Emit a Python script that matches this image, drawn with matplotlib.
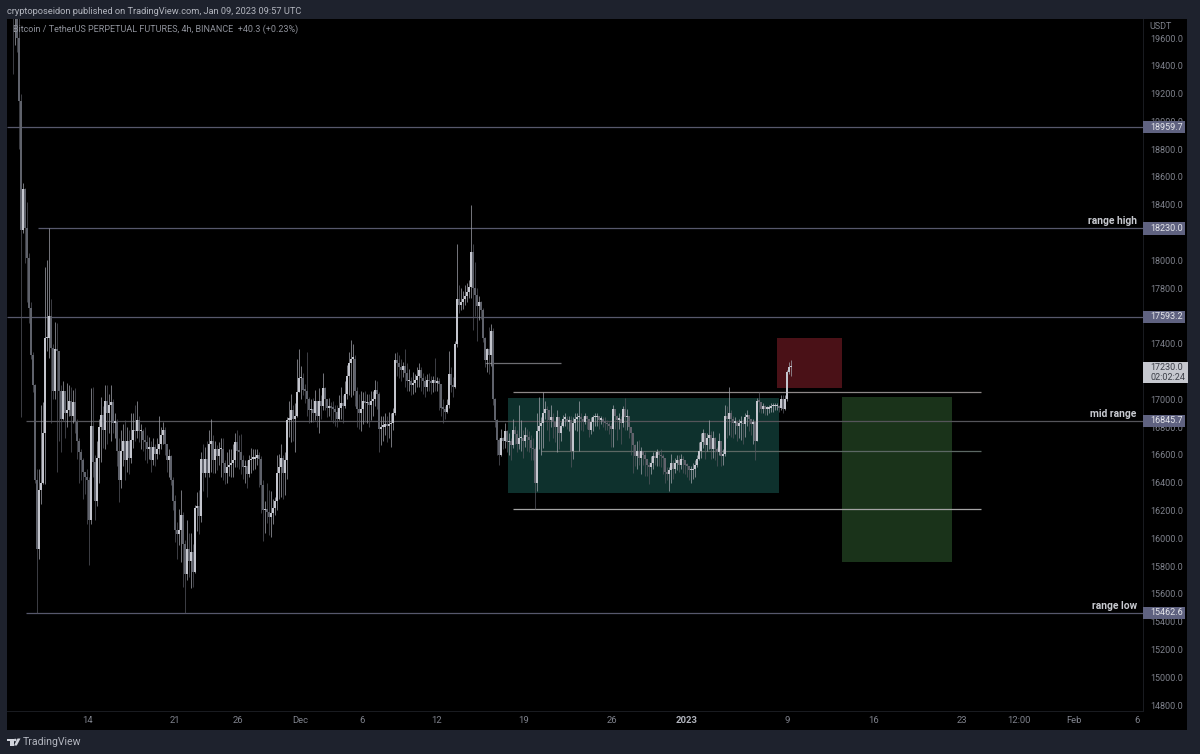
import matplotlib
matplotlib.use("Agg")
import matplotlib.pyplot as plt
from matplotlib.patches import Rectangle, Polygon, Circle
import numpy as np

plt.rcParams["font.family"] = ["Roboto", "DejaVu Sans"]

# Candles, left to right, ten per row
FIRST_OPEN = 20050
CLOSES = [
    19750, 19900, 19600, 19150, 18220, 18510, 18230, 18020, 17660, 17320,
    17100, 16420, 15920, 16350, 16400, 16760, 17440, 17440, 17600, 17370,
    17060, 17360, 17350, 17060, 16860, 17060, 16900, 16920, 16990, 16880,
    16980, 16840, 16700, 16620, 16560, 16480, 16440, 16420, 16130, 16810,
    16550, 16270, 16580, 16800, 16890, 16780, 16990, 16900, 16960, 16980,
    16830, 16840, 16630, 16420, 16630, 16700, 16560, 16700, 16580, 16710,
    16780, 16770, 16850, 16770, 16770, 16710, 16690, 16640, 16660, 16560,
    16660, 16610, 16640, 16680, 16740, 16780, 16680, 16560, 16590, 16420,
    16270, 16060, 16030, 16060, 16170, 15960, 15740, 15920, 15840, 15900,
    15760, 16220, 16230, 16160, 16570, 16470, 16570, 16470, 16680, 16700,
    16560, 16640, 16590, 16640, 16640, 16540, 16470, 16510, 16530, 16540,
    16560, 16690, 16630, 16620, 16560, 16510, 16520, 16460, 16560, 16570,
    16570, 16580, 16600, 16570, 16380, 16200, 16210, 16190, 16150, 16180,
    16220, 16270, 16470, 16510, 16580, 16470, 16560, 16850, 16850, 16920,
    16860, 16880, 17050, 17150, 17150, 17070, 17060, 17000, 16920, 16930,
    16900, 16990, 16880, 16990, 16950, 17080, 17000, 16940, 16950, 16940,
    16930, 16910, 16860, 16940, 16970, 16950, 17040, 17170, 17260, 17290,
    17290, 17060, 16930, 16900, 16930, 16990, 16970, 16980, 16960, 16990,
    17000, 17070, 17040, 16790, 16800, 16800, 16820, 16810, 16820, 16830,
    16900, 17280, 17260, 17230, 17210, 17240, 17190, 17130, 17130, 17100,
    17120, 17140, 17170, 17210, 17150, 17130, 17090, 17140, 17130, 17120,
    17140, 17120, 17130, 17110, 16940, 16930, 16910, 16960, 17180, 17100,
    17090, 17400, 17720, 17680, 17700, 17720, 17740, 17770, 17810, 18060,
    17800, 17750, 17670, 17700, 17640, 17440, 17280, 17360, 17320, 17490,
    17000, 16850, 16710, 16600, 16720, 16700, 16770, 16690, 16700, 16670,
    16780, 16750, 16680, 16720, 16720, 16700, 16740, 16730, 16710, 16650,
    16640, 16400, 16770, 16810, 16830, 16900, 16930, 16920, 16850, 16870,
    16840, 16800, 16870, 16760, 16810, 16860, 16860, 16840, 16850, 16630,
    16830, 16860, 16870, 16870, 16860, 16840, 16880, 16860, 16780, 16840,
    16870, 16870, 16880, 16850, 16860, 16840, 16830, 16820, 16810, 16790,
    16930, 16880, 16850, 16860, 16830, 16930, 16870, 16880, 16800, 16760,
    16670, 16590, 16630, 16580, 16630, 16600, 16570, 16530, 16510, 16540,
    16590, 16580, 16620, 16600, 16590, 16580, 16480, 16460, 16490, 16540,
    16500, 16540, 16560, 16530, 16570, 16560, 16530, 16520, 16490, 16490,
    16500, 16530, 16570, 16630, 16690, 16760, 16670, 16720, 16740, 16640,
    16720, 16640, 16620, 16700, 16590, 16610, 16880, 16860, 16900, 16860,
    16830, 16840, 16810, 16830, 16830, 16820, 16870, 16890, 16860, 16820,
    16840, 16700, 16990, 16980, 16930, 16950, 16930, 16930, 16940, 16950,
    16950, 16950, 16950, 16940, 17000, 16930, 17000, 17200, 17230, 17230,
]
HIGHS = [
    20000, 20100, 20000, 19750, 19200, 18560, 18520, 18420, 18050, 17700,
    17340, 17110, 16500, 16500, 16960, 16980, 17950, 18000, 18230, 17720,
    17400, 17560, 17550, 17100, 17100, 17130, 17000, 17120, 17100, 17090,
    17070, 17080, 16860, 16720, 16640, 16580, 16480, 16500, 16440, 17080,
    17090, 16600, 16700, 16860, 17020, 16950, 17100, 17100, 17040, 17100,
    17000, 16900, 16860, 16720, 16780, 16820, 16850, 16800, 16780, 16900,
    16900, 16960, 16990, 16880, 16820, 16790, 16800, 16740, 16730, 16700,
    16720, 16680, 16720, 16880, 16800, 16840, 16800, 16680, 16640, 16600,
    16440, 16310, 16120, 16210, 16350, 16190, 15990, 16130, 16040, 16040,
    15960, 16240, 16330, 16350, 16620, 16680, 16660, 16700, 16780, 16860,
    16740, 16700, 16670, 16690, 16720, 16720, 16560, 16620, 16640, 16640,
    16680, 16760, 16780, 16740, 16750, 16600, 16560, 16560, 16600, 16650,
    16640, 16640, 16640, 16620, 16590, 16420, 16270, 16400, 16350, 16340,
    16280, 16300, 16600, 16610, 16680, 16600, 16620, 16870, 16990, 17040,
    16960, 16970, 17290, 17360, 17240, 17190, 17110, 17340, 17020, 17000,
    17010, 17070, 16990, 17080, 17030, 17190, 17090, 17000, 17010, 16980,
    16990, 16960, 16960, 17030, 17090, 17030, 17130, 17250, 17340, 17430,
    17400, 17320, 17090, 17040, 17060, 17050, 17060, 17040, 17040, 17060,
    17060, 17140, 17130, 17050, 16880, 16880, 16900, 16880, 16910, 16900,
    16940, 17330, 17340, 17320, 17290, 17270, 17360, 17260, 17220, 17160,
    17200, 17180, 17230, 17260, 17230, 17190, 17170, 17180, 17190, 17170,
    17170, 17300, 17160, 17150, 17110, 17000, 16950, 17000, 17350, 17230,
    17160, 17420, 18120, 17820, 17800, 17780, 17820, 17840, 17860, 18400,
    18120, 17990, 17800, 17740, 17710, 17660, 17450, 17370, 17520, 17540,
    17510, 17010, 16860, 16720, 16790, 16730, 16830, 16780, 16760, 16720,
    16860, 16810, 16780, 16960, 16850, 16780, 16800, 16790, 16770, 16740,
    16720, 16660, 16900, 17020, 16870, 17050, 16990, 16950, 16910, 16960,
    16900, 16840, 16920, 16830, 16840, 16890, 16900, 16880, 16880, 16880,
    16870, 16900, 16900, 16990, 16900, 16880, 16900, 16880, 16850, 16870,
    16890, 16900, 16900, 16880, 16880, 16870, 16870, 16850, 16840, 16830,
    16960, 16930, 16890, 16900, 16880, 16950, 17010, 16930, 16850, 16790,
    16760, 16680, 16700, 16710, 16660, 16630, 16620, 16570, 16550, 16590,
    16620, 16620, 16640, 16630, 16640, 16610, 16560, 16510, 16510, 16610,
    16560, 16580, 16600, 16600, 16610, 16590, 16560, 16540, 16520, 16520,
    16540, 16560, 16600, 16690, 16760, 16790, 16760, 16760, 16850, 16770,
    16770, 16730, 16660, 16760, 16700, 16640, 16960, 16950, 17090, 16920,
    16880, 16870, 16850, 16860, 16880, 16860, 16900, 16920, 16890, 16850,
    16860, 16820, 17010, 17050, 16980, 16970, 16960, 16950, 16960, 16970,
    16970, 16970, 16970, 16960, 17030, 17030, 17030, 17210, 17270, 17280,
]
LOWS = [
    19340, 19550, 19500, 18800, 16870, 18200, 17980, 17700, 17550, 17290,
    17050, 16400, 15462, 15850, 16250, 16390, 16390, 17350, 17300, 16830,
    17000, 17000, 16480, 16700, 16620, 16850, 16720, 16800, 16880, 16620,
    16830, 16760, 16570, 16400, 16420, 16280, 16320, 16100, 15810, 16100,
    16440, 16130, 16230, 16400, 16550, 16650, 16640, 16680, 16760, 16700,
    16760, 16720, 16520, 16260, 16360, 16520, 16420, 16480, 16460, 16540,
    16650, 16700, 16720, 16690, 16640, 16630, 16560, 16540, 16570, 16480,
    16530, 16520, 16570, 16610, 16640, 16680, 16600, 16480, 16440, 16380,
    16200, 15970, 15850, 15950, 15830, 15650, 15462, 15700, 15720, 15640,
    15650, 15750, 16050, 16030, 16120, 16340, 16440, 16300, 16440, 16480,
    16470, 16470, 16490, 16530, 16440, 16420, 16390, 16400, 16450, 16440,
    16440, 16510, 16510, 16500, 16460, 16430, 16400, 16360, 16440, 16470,
    16490, 16500, 16530, 16370, 16180, 15980, 16040, 16110, 16020, 16010,
    16100, 16170, 16200, 16280, 16300, 16280, 16310, 16430, 16730, 16690,
    16700, 16620, 16870, 17050, 17000, 17030, 16970, 16880, 16830, 16840,
    16840, 16850, 16800, 16760, 16860, 16920, 16920, 16870, 16880, 16850,
    16830, 16810, 16800, 16850, 16860, 16830, 16940, 17000, 17030, 17020,
    17030, 16950, 16800, 16790, 16770, 16820, 16840, 16830, 16800, 16850,
    16880, 16950, 16930, 16620, 16670, 16700, 16740, 16690, 16720, 16660,
    16780, 16890, 17170, 17150, 17130, 17160, 17090, 17060, 17060, 17030,
    17040, 17050, 17090, 17090, 17060, 17040, 17020, 17060, 17060, 17040,
    17050, 17060, 17060, 16920, 16880, 16830, 16860, 16900, 16940, 17050,
    17020, 17080, 17380, 17620, 17640, 17650, 17680, 17700, 17730, 17730,
    17500, 17600, 17420, 17570, 17580, 17410, 17230, 17200, 17180, 17240,
    16960, 16800, 16600, 16530, 16590, 16640, 16650, 16620, 16600, 16560,
    16650, 16680, 16620, 16640, 16630, 16580, 16660, 16630, 16620, 16560,
    16560, 16210, 16340, 16640, 16600, 16650, 16860, 16780, 16700, 16800,
    16720, 16690, 16620, 16640, 16700, 16800, 16810, 16790, 16770, 16510,
    16570, 16780, 16770, 16630, 16780, 16770, 16820, 16790, 16730, 16750,
    16770, 16810, 16810, 16790, 16820, 16800, 16780, 16780, 16750, 16660,
    16660, 16790, 16710, 16790, 16680, 16800, 16780, 16780, 16720, 16600,
    16470, 16520, 16500, 16530, 16460, 16530, 16450, 16450, 16390, 16460,
    16500, 16530, 16520, 16520, 16510, 16460, 16400, 16420, 16340, 16400,
    16430, 16470, 16490, 16480, 16500, 16470, 16460, 16440, 16420, 16400,
    16430, 16440, 16510, 16560, 16580, 16650, 16570, 16630, 16640, 16570,
    16580, 16560, 16520, 16600, 16520, 16530, 16590, 16720, 16740, 16730,
    16720, 16750, 16700, 16720, 16710, 16680, 16730, 16810, 16770, 16740,
    16680, 16560, 16700, 16910, 16900, 16900, 16890, 16890, 16900, 16910,
    16910, 16920, 16920, 16910, 16920, 16900, 16920, 16990, 17180, 17170,
]

# Labels the price tags cover entirely are left blank, as on the chart
PRICE_TICKS = list(range(14800, 19601, 200))
HIDDEN_TICKS = [17200, 17600, 18200]

TIME_LABELS = ["14", "21", "26", "Dec", "6", "12", "19", "26", "2023", "9", "16", "23", "12:00", "Feb", "6"]
TIME_BARS = [37.5, 81, 112.5, 143.5, 174.5, 212, 255.5, 299.5, 337, 387, 430.5, 474.5, 503, 530.5, 562]

# Named levels (price, first bar, last bar, colour)
LEVELS = [
    (18959.7, -3, 565, "#57586c"),
    (18230.0, 12.5, 565, "#57586c"),
    (17593.2, -3, 565, "#57586c"),
    (16845.7, 6.5, 565, "#55555a"),
    (15462.6, 6.5, 565, "#57586c"),
    (17262.0, 236, 274, "#6e6e72"),
    (17053.0, 250, 484, "#8e8888"),
    (16630.0, 264, 484, "#5c6864"),
    (16210.0, 250, 484, "#a4a4a4"),
]
TAG_PRICES = [18959.7, 18230.0, 17593.2, 16845.7, 15462.6]
NOTES = [("range high", 18230.0), ("mid range", 16845.7), ("range low", 15462.6)]

# Position boxes (first bar, last bar, price low, price high, colour)
BOXES = [
    (247.5, 383, 16326, 17010, "#0e312d"),
    (382, 414.5, 17081, 17441, "#4a1117"),
    (414.5, 469.5, 15829, 17017, "#1a331a"),
]

FRAME = "#1e222d"
UP = "#c4c6ce"
DOWN = "#5f626b"
UP_WICK = "#a3a5ad"
DOWN_WICK = "#55575f"
LABEL = "#7f828c"

fig = plt.figure(figsize=(12, 7.54), dpi=100, facecolor=FRAME)

# Pixel overlay for the window chrome
chrome = fig.add_axes([0, 0, 1, 1], zorder=0)
chrome.set_xlim(0, 1200)
chrome.set_ylim(754, 0)
chrome.axis("off")
chrome.add_patch(Rectangle((7, 19), 1180, 711, color="black", lw=0))
chrome.text(7, 12, "cryptoposeidon published on TradingView.com, Jan 09, 2023 09:57 UTC",
            color="#b2b5be", fontsize=6.7, va="center", ha="left")
chrome.text(23, 742, "TradingView", color="#b2b5be", fontsize=7.6, va="center", ha="left")
chrome.add_patch(Rectangle((7, 738.5), 6.5, 2.8, color="#d1d4dc", lw=0))
chrome.add_patch(Rectangle((10, 738.5), 3.5, 7, color="#d1d4dc", lw=0))
chrome.add_patch(Circle((15.2, 740), 1.3, color="#d1d4dc", lw=0))
chrome.add_patch(Polygon([(17.5, 738.5), (20.5, 738.5), (16.8, 745.5), (14, 745.5)], color="#d1d4dc", lw=0))

ax = fig.add_axes([7 / 1200, 1 - 711 / 754, 1136 / 1200, 692 / 754], zorder=1)
ax.set_facecolor("black")
ax.set_xlim(-3, 565)
ax.set_ylim(14757, 19737)

for left, right, low, high, color in BOXES:
    ax.add_patch(Rectangle((left, low), right - left, high - low, color=color, lw=0, zorder=1))

for price, start, end, color in LEVELS:
    ax.hlines(price, start, end, color=color, lw=0.9, zorder=2)

closes = np.array(CLOSES, dtype=float)
highs = np.array(HIGHS, dtype=float)
lows = np.array(LOWS, dtype=float)
opens = np.concatenate([[FIRST_OPEN], closes[:-1]])
bars = np.arange(len(closes))
rising = closes >= opens
body_colors = [UP if r else DOWN for r in rising]
wick_colors = [UP_WICK if r else DOWN_WICK for r in rising]

ax.vlines(bars, lows, highs, colors=wick_colors, lw=0.5, zorder=3)
ax.bar(bars, np.abs(closes - opens).clip(min=12), bottom=np.minimum(opens, closes),
       width=1.0, color=body_colors, lw=0, zorder=4)

ax.yaxis.tick_right()
ax.set_yticks(PRICE_TICKS)
ax.set_yticklabels(["" if p in HIDDEN_TICKS else f"{p}.0" for p in PRICE_TICKS])
ax.set_xticks(TIME_BARS)
ax.set_xticklabels(TIME_LABELS)
ax.tick_params(axis="y", length=0, pad=5.2, labelsize=6.5, labelcolor=LABEL)
ax.tick_params(axis="x", length=0, pad=3.5, labelsize=6.8, labelcolor=LABEL)
ax.get_xticklabels()[TIME_LABELS.index("2023")].set_fontweight("bold")
ax.get_xticklabels()[TIME_LABELS.index("2023")].set_color("#b2b5be")
for name, spine in ax.spines.items():
    spine.set_visible(name in ("right", "bottom"))
    spine.set_color("#1a1c22")
    spine.set_linewidth(0.7)

ax.text(6 / 1136, 0.9855, "Bitcoin / TetherUS PERPETUAL FUTURES, 4h, BINANCE  +40.3 (+0.23%)",
        transform=ax.transAxes, color="#8e919a", fontsize=6.45, va="center", ha="left", zorder=6)
ax.text(1.0055, 0.9885, "USDT", transform=ax.transAxes, color=LABEL, fontsize=6.5, va="center", ha="left",
        clip_on=False)

# Price tags in the right-hand scale
scale = ax.get_yaxis_transform()
for price in TAG_PRICES:
    ax.add_patch(Rectangle((1.0, price - 45), 42 / 1136, 90, transform=scale, color="#5f6280", lw=0,
                           clip_on=False, zorder=5))
    ax.text(1.0062, price, f"{price:.1f}", transform=scale, color="#e4e5ea", fontsize=6.5,
            va="center", ha="left", zorder=6, clip_on=False)
ax.add_patch(Rectangle((1.0, 17118), 45 / 1136, 152, transform=scale, color="#c6c8cf", lw=0,
                       clip_on=False, zorder=5))
ax.text(1.0062, 17193, "17230.0\n02:02:24", transform=scale, color="#3c3f48", fontsize=6.5,
        va="center", ha="left", zorder=6, clip_on=False, linespacing=1.15)

for text, price in NOTES:
    ax.annotate(text, xy=(1.0, price), xycoords=scale, xytext=(-4.5, 5.0),
                textcoords="offset points", color="#c8cad0", fontsize=7.4, fontweight="bold",
                ha="right", va="center", zorder=6)

fig.savefig("out.png", dpi=100, facecolor=FRAME)
